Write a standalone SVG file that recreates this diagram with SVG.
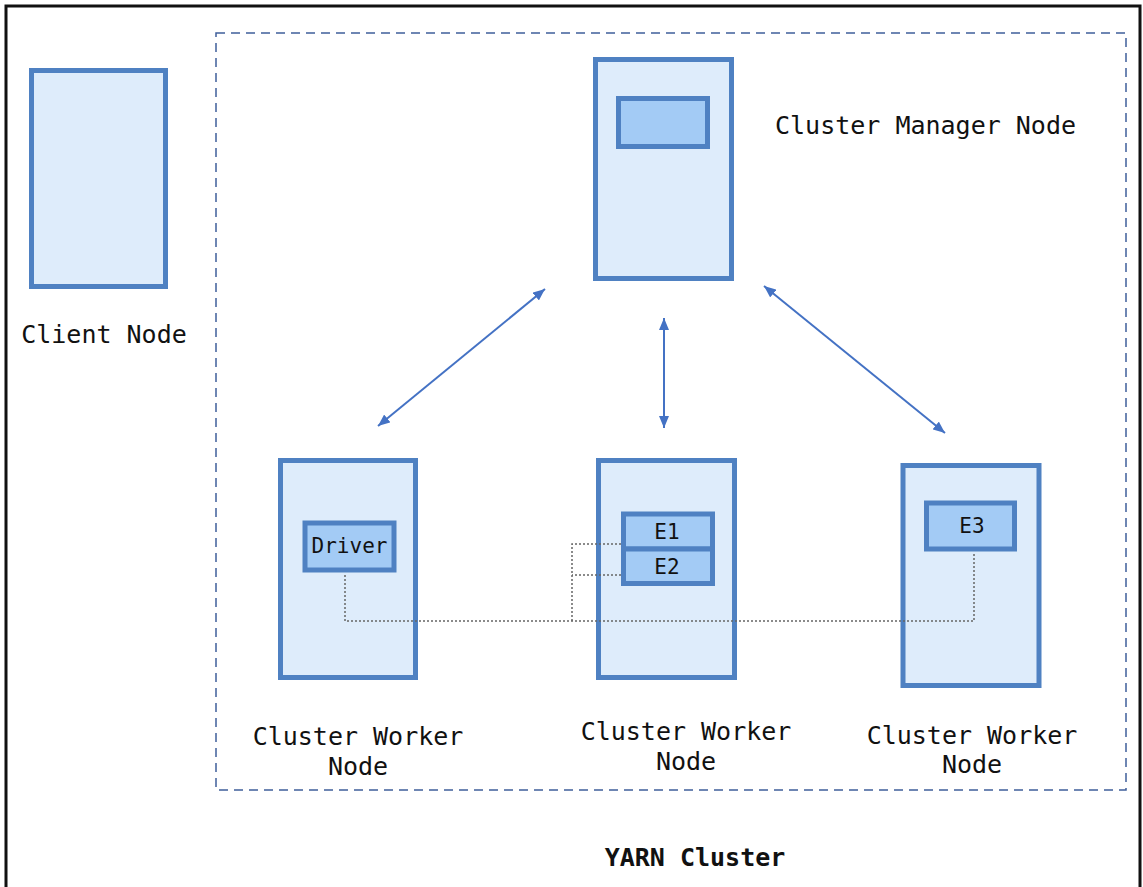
<svg xmlns="http://www.w3.org/2000/svg" width="1143" height="887" viewBox="0 0 1143 887">
<style>
.node{fill:#deecfb;stroke:#4f81c2;stroke-width:5}
.inner{fill:#a3cbf5;stroke:#4f81c2;stroke-width:5}
.lbl{font-family:"DejaVu Sans Mono","Liberation Mono",monospace;font-size:25px;fill:#111}
.small{font-family:"DejaVu Sans Mono","Liberation Mono",monospace;font-size:21px;fill:#111;text-anchor:middle}
.arrow{stroke:#4472c4;stroke-width:2;fill:none;marker-start:url(#ah);marker-end:url(#ah)}
.dot{stroke:#666;stroke-width:1.5;fill:none;stroke-dasharray:2 2}
</style>
<defs>
<marker id="ah" viewBox="0 0 12 10" refX="12" refY="5" markerWidth="12" markerHeight="10" markerUnits="userSpaceOnUse" orient="auto-start-reverse">
<path d="M0,0 L12,5 L0,10 Z" fill="#4472c4"/>
</marker>
</defs>
<rect x="0" y="0" width="1143" height="887" fill="#fff"/>
<rect id="frame" x="6" y="6" width="1134" height="890" fill="none" stroke="#111" stroke-width="3"/>
<g id="yarn-cluster">
<rect x="216" y="33" width="910" height="757" fill="none" stroke="#3f5f9a" stroke-width="1.5" stroke-dasharray="9 6"/>
<text class="lbl" x="695" y="866" text-anchor="middle" font-weight="bold">YARN Cluster</text>
</g>
<g id="client-node">
<rect class="node" x="31.5" y="70.5" width="134" height="216"/>
<text class="lbl" x="104" y="343" text-anchor="middle">Client Node</text>
</g>
<g id="manager-node">
<rect class="node" x="595.5" y="59.5" width="136" height="219"/>
<rect class="inner" x="618.5" y="98.5" width="89" height="48"/>
<text class="lbl" x="775" y="134">Cluster Manager Node</text>
</g>
<g id="worker-1">
<rect class="node" x="280.5" y="460.5" width="135" height="217"/>
<rect class="inner" x="305" y="523" width="89" height="47"/>
<text class="small" x="349.5" y="553">Driver</text>
<text class="lbl" x="358" y="745" text-anchor="middle">Cluster Worker</text>
<text class="lbl" x="358" y="775" text-anchor="middle">Node</text>
</g>
<g id="worker-2">
<rect class="node" x="598.5" y="460.5" width="136" height="217"/>
<rect class="inner" x="623.5" y="514" width="89" height="35"/>
<rect class="inner" x="623.5" y="549" width="89" height="34.5"/>
<text class="small" x="667" y="539">E1</text>
<text class="small" x="667" y="574">E2</text>
<text class="lbl" x="686" y="740" text-anchor="middle">Cluster Worker</text>
<text class="lbl" x="686" y="770" text-anchor="middle">Node</text>
</g>
<g id="worker-3">
<rect class="node" x="903" y="465.5" width="136" height="220"/>
<rect class="inner" x="926.5" y="503" width="88" height="46"/>
<text class="small" x="972" y="533">E3</text>
<text class="lbl" x="972" y="744" text-anchor="middle">Cluster Worker</text>
<text class="lbl" x="972" y="773" text-anchor="middle">Node</text>
</g>
<g id="connectors">
<line class="arrow" x1="378" y1="426" x2="545" y2="289"/>
<line class="arrow" x1="664" y1="428" x2="664" y2="318"/>
<line class="arrow" x1="764" y1="286" x2="945" y2="433"/>
<polyline class="dot" points="345,575 345,621 974,621 974,554"/>
<polyline class="dot" points="621,544 572,544 572,621"/>
<polyline class="dot" points="621,575 572,575"/>
</g>
</svg>
